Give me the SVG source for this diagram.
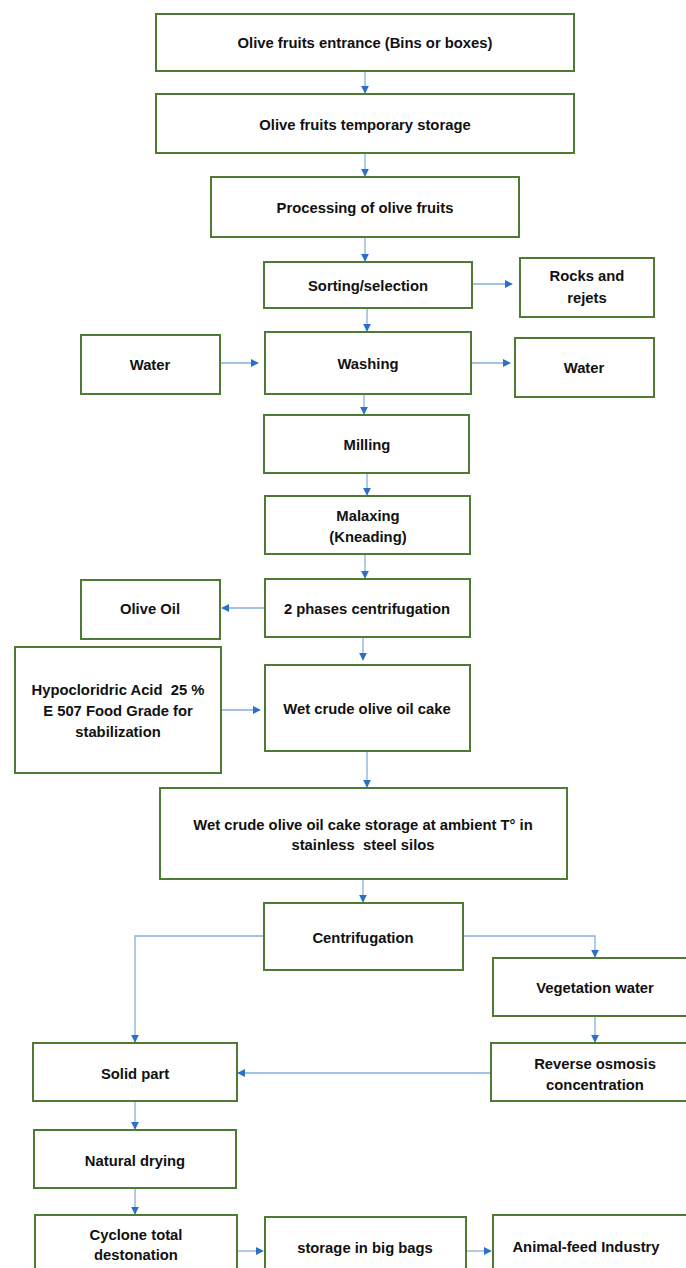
<svg xmlns="http://www.w3.org/2000/svg" width="686" height="1268" viewBox="0 0 686 1268">
<defs>
<style>
.b{fill:#fff;stroke:#4e7a34;stroke-width:2}
.t{font-family:"Liberation Sans",Arial,sans-serif;font-weight:bold;font-size:14.8px;fill:#111;text-anchor:middle;white-space:pre}
.c{fill:none;stroke:#86aedb;stroke-width:1.3}
</style>
<marker id="ah" viewBox="0 0 10 10" refX="9" refY="5" markerWidth="8" markerHeight="8" markerUnits="userSpaceOnUse" orient="auto">
<path d="M0,0 L10,5 L0,10 z" fill="#2a6fc9"/>
</marker>
</defs>
<rect width="686" height="1268" fill="#fff"/>
<g id="connectors">
<path class="c" d="M365,71 V93" marker-end="url(#ah)"/>
<path class="c" d="M365,153 V176" marker-end="url(#ah)"/>
<path class="c" d="M365,237 V261" marker-end="url(#ah)"/>
<path class="c" d="M472,284 H512" marker-end="url(#ah)"/>
<path class="c" d="M367,308 V331" marker-end="url(#ah)"/>
<path class="c" d="M220,363 H258" marker-end="url(#ah)"/>
<path class="c" d="M471,363 H510" marker-end="url(#ah)"/>
<path class="c" d="M364,394 V414" marker-end="url(#ah)"/>
<path class="c" d="M367,473 V495" marker-end="url(#ah)"/>
<path class="c" d="M365,554 V578" marker-end="url(#ah)"/>
<path class="c" d="M265,608 H222" marker-end="url(#ah)"/>
<path class="c" d="M363,637 V660" marker-end="url(#ah)"/>
<path class="c" d="M221,710 H260" marker-end="url(#ah)"/>
<path class="c" d="M367,751 V787" marker-end="url(#ah)"/>
<path class="c" d="M363,879 V902" marker-end="url(#ah)"/>
<path class="c" d="M264,936 H135 V1042" marker-end="url(#ah)"/>
<path class="c" d="M463,936 H595 V957" marker-end="url(#ah)"/>
<path class="c" d="M595,1016 V1042" marker-end="url(#ah)"/>
<path class="c" d="M491,1073 H238" marker-end="url(#ah)"/>
<path class="c" d="M135,1101 V1129" marker-end="url(#ah)"/>
<path class="c" d="M135,1188 V1214" marker-end="url(#ah)"/>
<path class="c" d="M237,1251 H263" marker-end="url(#ah)"/>
<path class="c" d="M466,1251 H491" marker-end="url(#ah)"/>
</g>
<g id="n1"><rect class="b" x="156" y="14" width="418" height="57"/><text class="t" x="365" y="48">Olive fruits entrance (Bins or boxes)</text></g>
<g id="n2"><rect class="b" x="156" y="94" width="418" height="59"/><text class="t" x="365" y="130">Olive fruits temporary storage</text></g>
<g id="n3"><rect class="b" x="211" y="177" width="308" height="60"/><text class="t" x="365" y="213">Processing of olive fruits</text></g>
<g id="n4"><rect class="b" x="264" y="262" width="208" height="46"/><text class="t" x="368" y="291">Sorting/selection</text></g>
<g id="n5"><rect class="b" x="520" y="258" width="134" height="59"/><text class="t" x="587" y="281">Rocks and</text><text class="t" x="587" y="303">rejets</text></g>
<g id="n6"><rect class="b" x="81" y="335" width="139" height="59"/><text class="t" x="150" y="370">Water</text></g>
<g id="n7"><rect class="b" x="265" y="332" width="206" height="62"/><text class="t" x="368" y="369">Washing</text></g>
<g id="n8"><rect class="b" x="515" y="338" width="139" height="59"/><text class="t" x="584" y="373">Water</text></g>
<g id="n9"><rect class="b" x="264" y="415" width="205" height="58"/><text class="t" x="367" y="450">Milling</text></g>
<g id="n10"><rect class="b" x="265" y="496" width="205" height="58"/><text class="t" x="368" y="521">Malaxing</text><text class="t" x="368" y="542">(Kneading)</text></g>
<g id="n11"><rect class="b" x="81" y="580" width="139" height="59"/><text class="t" x="150" y="614">Olive Oil</text></g>
<g id="n12"><rect class="b" x="265" y="579" width="205" height="58"/><text class="t" x="367" y="614">2 phases centrifugation</text></g>
<g id="n13"><rect class="b" x="15" y="647" width="206" height="126"/><text class="t" x="118" y="695">Hypocloridric Acid  25 %</text><text class="t" x="118" y="716">E 507 Food Grade for</text><text class="t" x="118" y="737">stabilization</text></g>
<g id="n14"><rect class="b" x="265" y="665" width="205" height="86"/><text class="t" x="367" y="714">Wet crude olive oil cake</text></g>
<g id="n15"><rect class="b" x="160" y="788" width="407" height="91"/><text class="t" x="363" y="830">Wet crude olive oil cake storage at ambient T° in</text><text class="t" x="363" y="850">stainless  steel silos</text></g>
<g id="n16"><rect class="b" x="264" y="903" width="199" height="67"/><text class="t" x="363" y="943">Centrifugation</text></g>
<g id="n17"><rect class="b" x="493" y="958" width="200" height="58"/><text class="t" x="595" y="993">Vegetation water</text></g>
<g id="n18"><rect class="b" x="33" y="1043" width="204" height="58"/><text class="t" x="135" y="1079">Solid part</text></g>
<g id="n19"><rect class="b" x="491" y="1043" width="202" height="58"/><text class="t" x="595" y="1069">Reverse osmosis</text><text class="t" x="595" y="1090">concentration</text></g>
<g id="n20"><rect class="b" x="34" y="1130" width="202" height="58"/><text class="t" x="135" y="1166">Natural drying</text></g>
<g id="n21"><rect class="b" x="35" y="1215" width="202" height="70"/><text class="t" x="136" y="1240">Cyclone total</text><text class="t" x="136" y="1260">destonation</text></g>
<g id="n22"><rect class="b" x="265" y="1217" width="201" height="70"/><text class="t" x="365" y="1253">storage in big bags</text></g>
<g id="n23"><rect class="b" x="493" y="1215" width="200" height="70"/><text class="t" x="586" y="1252">Animal-feed Industry</text></g>
</svg>
